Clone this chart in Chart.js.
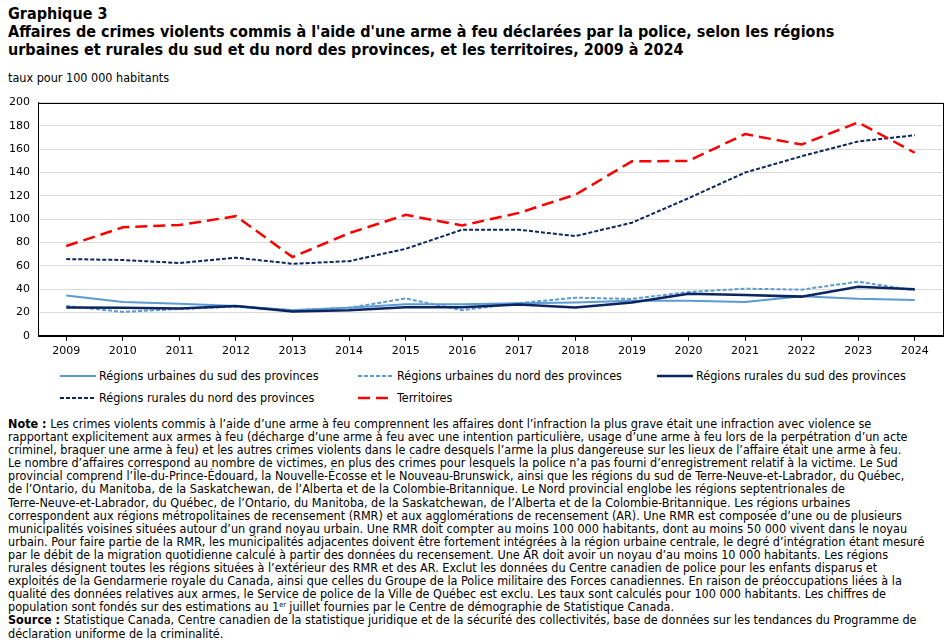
<!DOCTYPE html>
<html lang="fr">
<head>
<meta charset="utf-8">
<script src="https://cdn.jsdelivr.net/npm/chart.js@4.4.1/dist/chart.umd.min.js"></script>
<style>
  body { margin: 0; background: #fff; width: 946px; height: 643px; overflow: hidden; position: relative; font-family: "DejaVu Sans Condensed", "DejaVu Sans", sans-serif; color: #000; }
  .title { position: absolute; left: 8px; top: 5px; font-weight: bold; font-size: 16px; line-height: 18px; }
  .unit { position: absolute; left: 8px; top: 70px; font-size: 12.5px; }
  .chart-box { position: absolute; left: 0; top: 88px; width: 946px; height: 274px; }
  .legend { position: absolute; left: 0; top: 366px; width: 946px; font-size: 12.5px; }
  .legend-item { position: absolute; display: flex; align-items: center; white-space: nowrap; }
  .legend-item svg { margin-right: 3px; }
  .notes { position: absolute; left: 8px; top: 417px; font-size: 12.5px; line-height: 13.1px; white-space: nowrap; }
  .notes b { font-weight: bold; }
  sup { font-size: 7px; vertical-align: 4px; line-height: 0; }
</style>
</head>
<body>
<div class="title">Graphique 3<br>Affaires de crimes violents commis à l'aide d'une arme à feu déclarées par la police, selon les régions<br>urbaines et rurales du sud et du nord des provinces, et les territoires, 2009 à 2024</div>
<div class="unit">taux pour 100 000 habitants</div>
<div class="chart-box"><canvas id="chart"></canvas></div>
<div class="legend" id="legend"></div>
<div class="notes">
<b>Note :</b> Les crimes violents commis à l’aide d’une arme à feu comprennent les affaires dont l’infraction la plus grave était une infraction avec violence se<br>
rapportant explicitement aux armes à feu (décharge d’une arme à feu avec une intention particulière, usage d’une arme à feu lors de la perpétration d’un acte<br>
criminel, braquer une arme à feu) et les autres crimes violents dans le cadre desquels l’arme la plus dangereuse sur les lieux de l’affaire était une arme à feu.<br>
Le nombre d’affaires correspond au nombre de victimes, en plus des crimes pour lesquels la police n’a pas fourni d’enregistrement relatif à la victime. Le Sud<br>
provincial comprend l’Île-du-Prince-Édouard, la Nouvelle-Écosse et le Nouveau-Brunswick, ainsi que les régions du sud de Terre-Neuve-et-Labrador, du Québec,<br>
de l’Ontario, du Manitoba, de la Saskatchewan, de l’Alberta et de la Colombie-Britannique. Le Nord provincial englobe les régions septentrionales de<br>
Terre-Neuve-et-Labrador, du Québec, de l’Ontario, du Manitoba, de la Saskatchewan, de l’Alberta et de la Colombie-Britannique. Les régions urbaines<br>
correspondent aux régions métropolitaines de recensement (RMR) et aux agglomérations de recensement (AR). Une RMR est composée d’une ou de plusieurs<br>
municipalités voisines situées autour d’un grand noyau urbain. Une RMR doit compter au moins 100 000 habitants, dont au moins 50 000 vivent dans le noyau<br>
urbain. Pour faire partie de la RMR, les municipalités adjacentes doivent être fortement intégrées à la région urbaine centrale, le degré d’intégration étant mesuré<br>
par le débit de la migration quotidienne calculé à partir des données du recensement. Une AR doit avoir un noyau d’au moins 10 000 habitants. Les régions<br>
rurales désignent toutes les régions situées à l’extérieur des RMR et des AR. Exclut les données du Centre canadien de police pour les enfants disparus et<br>
exploités de la Gendarmerie royale du Canada, ainsi que celles du Groupe de la Police militaire des Forces canadiennes. En raison de préoccupations liées à la<br>
qualité des données relatives aux armes, le Service de police de la Ville de Québec est exclu. Les taux sont calculés pour 100 000 habitants. Les chiffres de<br>
population sont fondés sur des estimations au 1<sup>er</sup> juillet fournies par le Centre de démographie de Statistique Canada.<br>
<b>Source :</b> Statistique Canada, Centre canadien de la statistique juridique et de la sécurité des collectivités, base de données sur les tendances du Programme de<br>
déclaration uniforme de la criminalité.
</div>
<script>
const years = ['2009', '2010', '2011', '2012', '2013', '2014', '2015', '2016',
  '2017', '2018', '2019', '2020', '2021', '2022', '2023', '2024'];

const seriesNames = [
  'Régions urbaines du sud des provinces',
  'Régions urbaines du nord des provinces',
  'Régions rurales du sud des provinces',
  'Régions rurales du nord des provinces',
  'Territoires'
];

const urbainSud  = [34.5, 29, 27.5, 25.5, 22, 24, 27, 27, 28, 28.5, 30, 30, 29, 34, 31.8, 30.8];
const urbainNord = [25.6, 20.5, 23, 25, 22, 24, 32, 22, 28, 32.7, 31.6, 37.6, 40.4, 39.6, 46.4, 39];
const ruralSud   = [24.2, 24, 23.5, 25.5, 20.8, 22, 24.5, 24.5, 26.8, 24.2, 28.5, 36, 35, 33.6, 42, 40];
const ruralNord  = [65.8, 65, 62.4, 67, 61.8, 64, 74.6, 91, 91, 85.5, 97, 118, 140, 154, 166.7, 172];
const territoires = [77, 93, 95, 102.6, 67.5, 88, 103.7, 94.6, 105.4, 121, 149.6, 150, 173, 164, 183, 157];

const yTicks = [0, 20, 40, 60, 80, 100, 120, 140, 160, 180, 200];

const lightBlue = '#5b9bd5';
const navy = '#0b2560';
const red = '#ff0000';

const styles = [
  { color: lightBlue, width: 2, dash: [] },
  { color: lightBlue, width: 2, dash: [4, 2] },
  { color: navy, width: 2.5, dash: [] },
  { color: navy, width: 2, dash: [4, 2] },
  { color: red, width: 2.5, dash: [12, 6] }
];

const allValues = [urbainSud, urbainNord, ruralSud, ruralNord, territoires];

const datasets = allValues.map((vals, i) => ({
  label: seriesNames[i],
  data: vals,
  borderColor: styles[i].color,
  backgroundColor: styles[i].color,
  borderWidth: styles[i].width,
  borderDash: styles[i].dash,
  pointRadius: 0,
  tension: 0,
  fill: false
}));

// draw the order like the reference: red and dark dashed on top of the others
datasets.forEach((d, i) => { d.order = 5 - i; });

// frame around plot area
const framePlugin = {
  id: 'frame',
  afterDraw(chart) {
    const { ctx, chartArea: a } = chart;
    ctx.save();
    ctx.strokeStyle = '#000';
    ctx.lineWidth = 1;
    ctx.strokeRect(Math.round(a.left) + 0.5, Math.round(a.top) + 0.5, Math.round(a.right - a.left), Math.round(a.bottom - a.top));
    ctx.restore();
  }
};

new Chart(document.getElementById('chart'), {
  type: 'line',
  data: { labels: years, datasets },
  options: {
    responsive: true,
    maintainAspectRatio: false,
    animation: false,
    layout: { padding: { top: 9, right: 3, left: 0, bottom: 0 } },
    plugins: {
      legend: { display: false },
      tooltip: { enabled: false }
    },
    scales: {
      x: {
        offset: true,
        grid: { display: true, drawOnChartArea: false, color: '#000', tickLength: 5, offset: false },
        border: { display: true, color: '#000' },
        ticks: { color: '#000', font: { family: 'DejaVu Sans', size: 11 }, padding: 4, maxRotation: 0, autoSkip: false }
      },
      y: {
        min: 0,
        max: 200,
        afterBuildTicks: s => { s.ticks = yTicks.map(v => ({ value: v })); },
        afterFit: s => { s.width = 38; },
        grid: { color: '#d9d9d9', drawTicks: false },
        border: { display: true, color: '#000' },
        ticks: { color: '#000', font: { family: 'DejaVu Sans', size: 11 }, padding: 8 }
      }
    }
  },
  plugins: [framePlugin]
});

// html legend, two rows like the reference
const legendPos = [[60, 10], [358, 10], [657, 10], [60, 32], [358, 32]];
const legendEl = document.getElementById('legend');
seriesNames.forEach((name, i) => {
  const s = styles[i];
  const item = document.createElement('div');
  item.className = 'legend-item';
  item.style.left = legendPos[i][0] + 'px';
  item.style.top = (legendPos[i][1] - 8) + 'px';
  item.innerHTML = `<svg width="36" height="6"><line x1="0" y1="3" x2="36" y2="3" stroke="${s.color}" stroke-width="${s.width}" stroke-dasharray="${s.dash.join(',')}"/></svg>${name}`;
  legendEl.appendChild(item);
});
</script>
</body>
</html>
